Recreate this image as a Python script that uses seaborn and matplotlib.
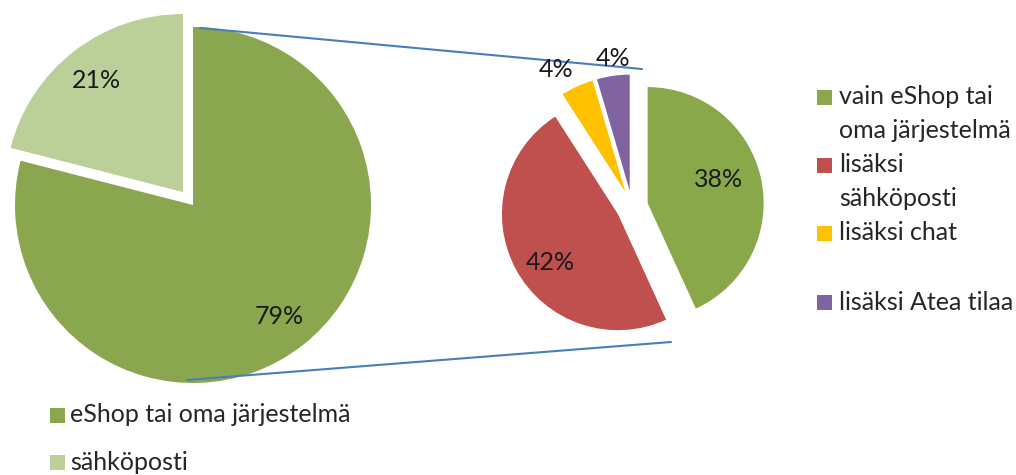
import numpy as np
import matplotlib
matplotlib.use("Agg")
import matplotlib.pyplot as plt
from matplotlib.patches import Rectangle
import seaborn as sns

# ---- data ----
main_labels = ["eShop tai oma järjestelmä", "sähköposti"]
main_values = [79, 21]
sub_labels = ["vain eShop tai\noma järjestelmä", "lisäksi\nsähköposti", "lisäksi chat", "lisäksi Atea tilaa"]
sub_values = [38, 42, 4, 4]

# ---- style ----
main_colors = ["#8AA64F", "#BBCF98"]
sub_colors = ["#89A84A", "#C0504D", "#FFC000", "#8064A2"]
FONT = "Lato"

sns.set_theme(style="white")
plt.rcParams["font.family"] = [FONT, "DejaVu Sans"]

W, H = 1016, 475
fig = plt.figure(figsize=(W / 100, H / 100), dpi=100)
ax = fig.add_axes([0, 0, 1, 1])

def Y(y):  # screen y -> axis y
    return H - y

main_c = (193, Y(205)); main_r = 178
sub_c = (632, Y(206.5)); sub_r = 116

w_main, _ = ax.pie(main_values, colors=main_colors, startangle=90, counterclock=False,
                   center=main_c, radius=main_r, explode=[0, 0.092 * main_r],
                   wedgeprops=dict(linewidth=0))
w_sub, _ = ax.pie(sub_values, colors=sub_colors, startangle=90, counterclock=False,
                  center=sub_c, radius=sub_r, explode=[0.138 * sub_r] * 4,
                  wedgeprops=dict(linewidth=0))

def put_labels(wedges, values, fracs, nudges, fs):
    for w, v, f, d in zip(wedges, values, fracs, nudges):
        mid = np.deg2rad((w.theta1 + w.theta2) / 2 + d)
        cx, cy = w.center
        ax.text(cx + f * w.r * np.cos(mid), cy + f * w.r * np.sin(mid), f"{v}%",
                ha="center", va="center", fontsize=fs, color="#1a1a1a")

put_labels(w_main, main_values, [0.79, 0.79], [0, 0], 18)
put_labels(w_sub, sub_values, [0.64, 0.72, 1.21, 1.15], [6, 7, 5, -1], 18)

# connector lines between the two pies
line_col = "#4A7EBB"
ax.plot([main_c[0] + 7, sub_c[0] + 10], [main_c[1] + 177, sub_c[1] + 137.5], color=line_col, lw=1.5)
ax.plot([main_c[0] - 6, sub_c[0] + 39], [main_c[1] - 175, sub_c[1] - 135.5], color=line_col, lw=1.5)

# legends
def legend(labels, colors, x_box, x_text, ys, box, fs, lsp):
    for lab, col, y in zip(labels, colors, ys):
        ax.add_patch(Rectangle((x_box, Y(y) - box / 2), box, box, facecolor=col, edgecolor="none"))
        for i, line in enumerate(lab.split("\n")):
            ax.text(x_text, Y(y + i * lsp), line, ha="left", va="center",
                    fontsize=fs, color="#262626")

legend(main_labels, main_colors, 50, 70, [415, 462], 15, 18, 33)
legend(sub_labels, sub_colors, 817, 839, [97, 165, 233, 302], 15, 18, 33)

ax.set_xlim(0, W)
ax.set_ylim(0, H)
ax.set_aspect("auto")
ax.axis("off")
fig.savefig("out.png", dpi=100)
